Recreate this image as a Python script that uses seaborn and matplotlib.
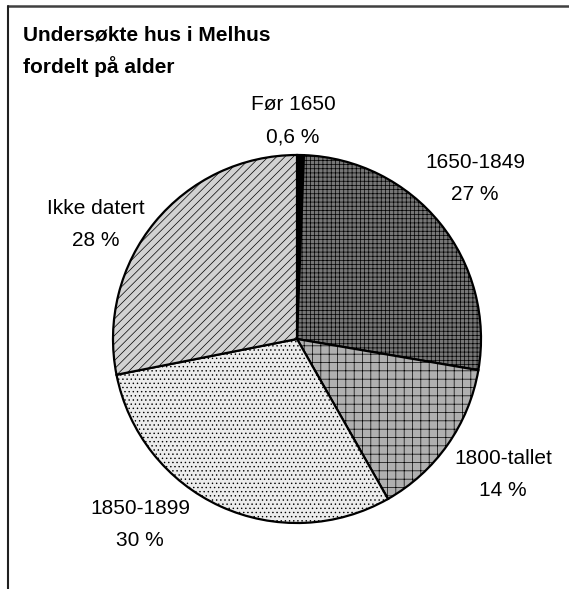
import numpy as np
import seaborn as sns
import matplotlib.pyplot as plt
from matplotlib.lines import Line2D

# data
categories = ['Før 1650', '1650-1849', '1800-tallet', '1850-1899', 'Ikke datert']
share_pct = [0.6, 27, 14, 30, 28]
pct_labels = ['0,6 %', '27 %', '14 %', '30 %', '28 %']

sns.set_theme(style="white")
plt.rcParams['font.family'] = ['Liberation Sans', 'DejaVu Sans']
plt.rcParams['hatch.linewidth'] = 0.5

W, H = 569, 589
fig = plt.figure(figsize=(W / 100, H / 100), dpi=100)
ax = fig.add_axes([0, 0, 1, 1])

greys = ['#000000', '#767676', '#b0b0b0', '#ececec', '#d2d2d2']
hatches = ['', '++++', '++', '....', '////']

wedges, _ = ax.pie(share_pct, colors=greys, startangle=90, counterclock=False,
                   center=(297, H - 339), radius=184,
                   wedgeprops=dict(edgecolor='black', linewidth=1.6))
for w, h in zip(wedges, hatches):
    w.set_hatch(h)

ax.set_xlim(0, W)
ax.set_ylim(0, H)
ax.set_aspect('equal')
ax.axis('off')

# label layout (pixel centres, from top)
label_pos = [(293, 105), (475, 163), (503, 458), (140, 508), (96, 208)]
for name, pct, (x, y) in zip(categories, pct_labels, label_pos):
    ax.text(x, H - y, name, ha='center', va='center', fontsize=15, color='black')
    ax.text(x, H - y - 32, pct, ha='center', va='center', fontsize=15, color='black')

ax.text(23, H - 35, 'Undersøkte hus i Melhus', ha='left', va='center',
        fontsize=15, fontweight='bold', color='black')
ax.text(23, H - 67, 'fordelt på alder', ha='left', va='center',
        fontsize=15, fontweight='bold', color='black')

# chart frame (top and left edges visible)
fig.add_artist(Line2D([8 / W, 1], [1 - 6 / H, 1 - 6 / H], color='#404040', lw=1.8))
fig.add_artist(Line2D([8 / W, 8 / W], [0, 1 - 6 / H], color='#202020', lw=1.5))

plt.savefig('out.png', dpi=100)
